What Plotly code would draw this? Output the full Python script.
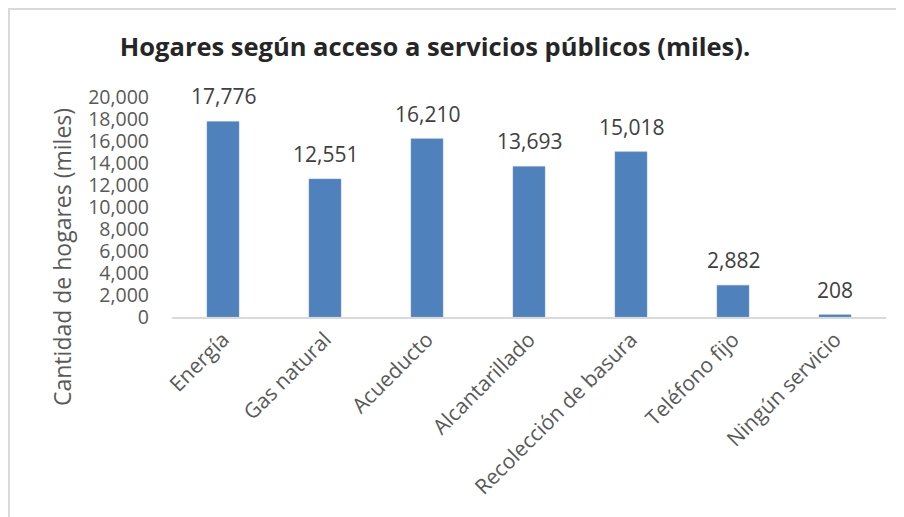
import plotly.graph_objects as go

categories = ["Energía", "Gas natural", "Acueducto", "Alcantarillado",
              "Recolección de basura", "Teléfono fijo", "Ningún servicio"]
values = [17776, 12551, 16210, 13693, 15018, 2882, 208]
tick_vals = [0, 2000, 4000, 6000, 8000, 10000, 12000, 14000, 16000, 18000, 20000]

# page body offsets the figure by 8px; work in reference pixel coords minus 8
O = 8
W, H = 904 - O, 517 - O
L = 172 - O
T = 97 - O
pw, ph = 714, 220
R = W - L - pw
B = H - T - ph
y0px = T + ph  # pixel row of zero line (figure coords)

FONT = "Open Sans"

fig = go.Figure()
fig.add_trace(go.Bar(
    x=categories, y=values,
    marker=dict(color="#4F81BD", line=dict(color="#7FA3D1", width=0.5)),
))

for c, v in zip(categories, values):
    fig.add_annotation(
        x=c, y=v, xref="x", yref="y",
        text=f"{v:,}", showarrow=False,
        yanchor="bottom", yshift=9,
        font=dict(family=FONT, size=21, color="#404040"),
    )

fig.update_layout(
    width=W, height=H,
    margin=dict(l=L, r=R, t=T, b=B, autoexpand=False),
    paper_bgcolor="white", plot_bgcolor="white",
    bargap=0.686,
    showlegend=False,
    title=dict(
        text="<b>Hogares según acceso a servicios públicos (miles).</b>",
        font=dict(family=FONT, size=25.5, color="#262626"),
        x=(435 - O) / W, xref="container", xanchor="center",
        y=1 - (47 - O) / H, yref="container", yanchor="middle",
    ),
    xaxis=dict(
        showline=True, linecolor="#D9D9D9", linewidth=2,
        tickangle=-45, ticks="", automargin=False,
        tickfont=dict(family=FONT, size=21, color="#595959"),
        showgrid=False,
    ),
    yaxis=dict(
        range=[0, 20000], tickvals=tick_vals, tickformat=",d",
        showline=False, showgrid=False, zeroline=False, automargin=False,
        ticks="", ticklabelstandoff=22,
        tickfont=dict(family=FONT, size=19.5, color="#595959"),
    ),
    font=dict(family=FONT),
)

fig.add_annotation(
    text="Cantidad de hogares (miles)",
    textangle=-90,
    xref="paper", yref="paper",
    x=(62 - O - L) / pw, y=(y0px - (257 - O)) / ph,
    xanchor="center", yanchor="middle",
    showarrow=False,
    font=dict(family=FONT, size=23, color="#595959"),
)

# outer chart border (light gray)
fig.add_shape(
    type="rect", xref="paper", yref="paper",
    x0=(9 - O - L) / pw, x1=(W + 20 - L) / pw,
    y0=(y0px - (H + 20)) / ph, y1=(y0px - (9 - O)) / ph,
    line=dict(color="#D9D9D9", width=2), fillcolor="rgba(0,0,0,0)",
    layer="below",
)

fig.write_html("out.html")
